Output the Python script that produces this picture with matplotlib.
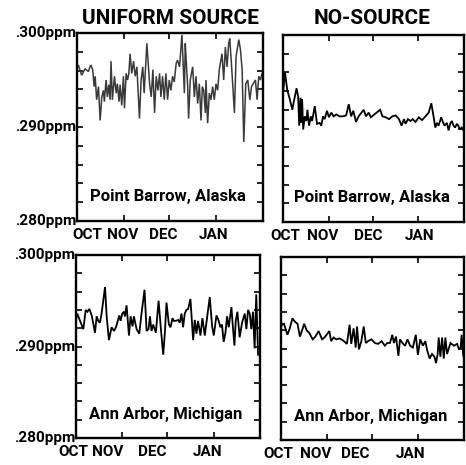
import matplotlib
matplotlib.use("Agg")
import matplotlib.pyplot as plt
import matplotlib.transforms as mtransforms
import numpy as np

plt.rcParams['font.family'] = ['Roboto', 'DejaVu Sans']

# ---- data (ppm) : day index counted from Oct 1 ----
ub_days = [0, 0.9, 3.1, 5.3, 7.5, 9.1, 10.4, 11.3, 12.0, 13.0, 14.2, 15.3, 16.4, 17.5, 18.1, 19.2,
           20.1, 21.0, 21.9, 22.5, 23.4, 24.8, 25.9, 26.7, 27.8, 28.5, 29.6, 30.7, 31.4, 32.5, 33.4,
           34.3, 35.1, 36.2, 37.4, 38.5, 39.6, 41.3, 42.4, 43.5, 44.4, 46.2, 48.0, 49.1, 50.2, 51.3,
           52.4, 53.5, 54.6, 55.5, 56.6, 57.7, 58.8, 59.9, 61.0, 62.1, 63.2, 64.3, 65.6, 66.5, 67.8,
           69.4, 71.0, 71.6, 72.3, 73.2, 73.8, 74.9, 76.5, 77.6, 78.7, 79.8, 80.9, 82.0, 82.9, 83.8,
           84.9, 85.3, 86.4, 87.5, 88.6, 89.7, 90.8, 91.9, 93.0, 94.1, 95.9, 97.0, 98.1, 99.2, 100.3,
           101.0, 102.1, 103.2, 104.1, 105.2, 107.0, 108.1, 109.2, 110.3, 111.6, 112.9, 114.3, 115.4,
           116.5, 118.0, 119.1, 120.2, 121.3, 122.4]
ub_vals = [0.2964, 0.2966, 0.2955, 0.2962, 0.2959, 0.2966, 0.2961, 0.2943, 0.2954, 0.2929, 0.2943,
           0.2907, 0.2932, 0.2939, 0.2927, 0.2950, 0.2932, 0.2945, 0.2929, 0.2970, 0.2929, 0.2954,
           0.2936, 0.2946, 0.2927, 0.2945, 0.2923, 0.2954, 0.2920, 0.2957, 0.2950, 0.2957, 0.2978,
           0.2957, 0.2970, 0.2954, 0.2964, 0.2909, 0.2950, 0.2964, 0.2936, 0.2989, 0.2946, 0.2932,
           0.2961, 0.2915, 0.2954, 0.2939, 0.2957, 0.2932, 0.2954, 0.2929, 0.2957, 0.2929, 0.2950,
           0.2939, 0.2954, 0.2948, 0.2968, 0.2971, 0.2964, 0.2998, 0.2936, 0.2989, 0.2968, 0.2943,
           0.2909, 0.2950, 0.2964, 0.2932, 0.2954, 0.2925, 0.2946, 0.2907, 0.2943, 0.2939, 0.2915,
           0.2950, 0.2904, 0.2936, 0.2929, 0.2943, 0.2929, 0.2946, 0.2939, 0.2961, 0.2978, 0.2950,
           0.2985, 0.2964, 0.2989, 0.2994, 0.2968, 0.2939, 0.2915, 0.2975, 0.2993, 0.2982, 0.2961,
           0.2884, 0.2946, 0.2950, 0.2929, 0.2943, 0.2946, 0.2950, 0.2929, 0.2954, 0.2950, 0.2957]

nb_days = [0.2, 1.35, 2.9, 4.7, 6.3, 7.4, 9.2, 10.3, 11.0, 11.9, 12.6, 13.0, 13.7, 14.8, 15.9, 16.6,
           17.7, 18.9, 19.8, 21.6, 23.1, 24.9, 26.0, 27.2, 28.3, 29.9, 31.2, 32.8, 34.4, 36.2, 38.4,
           40.6, 42.9, 44.7, 46.3, 47.8, 49.6, 51.4, 54.8, 56.4, 58.2, 59.7, 62.0, 66.0, 67.6, 69.8,
           72.1, 74.3, 76.6, 78.8, 80.6, 82.2, 83.3, 84.9, 86.7, 88.2, 90.0, 92.3, 94.5, 96.8, 99.0,
           100.8, 102.4, 103.5, 104.6, 105.7, 107.5, 108.4, 109.8, 111.4, 112.5, 113.6, 114.7, 115.9,
           117.0, 118.1, 119.2, 120.3, 121.5, 122.6]
nb_vals = [0.2941, 0.2960, 0.2941, 0.2931, 0.2920, 0.2929, 0.2943, 0.2934, 0.2903, 0.2933, 0.2906,
           0.2931, 0.2899, 0.2913, 0.2908, 0.2920, 0.2903, 0.2913, 0.2908, 0.2924, 0.2905, 0.2906,
           0.2903, 0.2913, 0.2910, 0.2919, 0.2912, 0.2917, 0.2913, 0.2915, 0.2913, 0.2913, 0.2914,
           0.2926, 0.2913, 0.2919, 0.2907, 0.2913, 0.2920, 0.2913, 0.2917, 0.2912, 0.2915, 0.2920,
           0.2913, 0.2912, 0.2910, 0.2913, 0.2914, 0.2910, 0.2903, 0.2910, 0.2905, 0.2910, 0.2908,
           0.2910, 0.2907, 0.2912, 0.2909, 0.2913, 0.2917, 0.2927, 0.2912, 0.2901, 0.2906, 0.2903,
           0.2912, 0.2908, 0.2903, 0.2906, 0.2898, 0.2905, 0.2908, 0.2903, 0.2901, 0.2905, 0.2903,
           0.2899, 0.2901, 0.2898]

ua_days = [0, 0.9, 2.7, 4.9, 6.5, 7.6, 8.9, 10.5, 12.7, 13.8, 14.9, 16.0, 17.1, 19.4, 20.5, 22.0,
           23.8, 25.4, 26.7, 27.6, 28.9, 29.8, 30.9, 32.0, 32.7, 33.8, 35.4, 36.5, 37.8, 38.7, 40.5,
           42.3, 43.8, 45.8, 47.2, 48.5, 49.4, 50.5, 51.6, 53.4, 55.2, 56.5, 58.3, 59.4, 60.5, 62.1,
           63.2, 64.5, 65.4, 66.7, 68.3, 69.4, 70.5, 71.6, 72.7, 73.8, 75.0, 76.5, 78.3, 79.4, 80.5,
           81.6, 83.2, 84.5, 86.1, 87.2, 89.4, 91.0, 92.1, 93.9, 95.4, 96.5, 97.6, 98.7, 99.9, 101.0,
           102.1, 103.9, 105.0, 105.9, 106.8, 107.9, 109.4, 111.0, 112.8, 113.9, 115.0, 116.1, 117.2,
           118.3, 119.4, 120.5, 121.7]
ua_vals = [0.2929, 0.2936, 0.2928, 0.2919, 0.2940, 0.2938, 0.2941, 0.2934, 0.2915, 0.2933, 0.2928,
           0.2926, 0.2936, 0.2965, 0.2933, 0.2907, 0.2921, 0.2917, 0.2921, 0.2926, 0.2934, 0.2928,
           0.2936, 0.2938, 0.2933, 0.2945, 0.2912, 0.2933, 0.2922, 0.2933, 0.2919, 0.2914, 0.2936,
           0.2962, 0.2917, 0.2919, 0.2933, 0.2917, 0.2924, 0.2915, 0.2950, 0.2924, 0.2891, 0.2915,
           0.2948, 0.2924, 0.2921, 0.2931, 0.2928, 0.2928, 0.2929, 0.2926, 0.2936, 0.2921, 0.2936,
           0.2940, 0.2941, 0.2952, 0.2907, 0.2929, 0.2914, 0.2928, 0.2912, 0.2931, 0.2912, 0.2926,
           0.2954, 0.2922, 0.2912, 0.2934, 0.2928, 0.2921, 0.2924, 0.2905, 0.2915, 0.2933, 0.2921,
           0.2943, 0.2919, 0.2901, 0.2928, 0.2938, 0.2910, 0.2926, 0.2936, 0.2919, 0.2940, 0.2936,
           0.2919, 0.2938, 0.2898, 0.2957, 0.2891]

na_days = [0, 0.9, 2.0, 4.3, 5.9, 7.7, 9.5, 11.1, 12.7, 14.0, 15.6, 17.2, 19.0, 21.3, 23.1, 25.3,
           27.6, 29.2, 32.5, 33.7, 35.3, 37.1, 39.3, 41.6, 44.3, 46.1, 47.2, 48.8, 50.2, 51.1, 52.4,
           54.0, 55.6, 57.0, 58.5, 60.8, 63.1, 65.3, 67.6, 69.8, 71.4, 73.2, 74.8, 75.9, 77.3, 78.9,
           80.0, 81.6, 83.4, 85.0, 86.8, 88.6, 90.6, 92.0, 93.6, 95.4, 97.0, 98.1, 99.9, 101.5, 103.1,
           104.2, 105.3, 106.0, 107.1, 108.3, 109.4, 110.5, 111.6, 113.9, 116.2, 118.4, 119.6, 120.7,
           121.4, 122.5]
na_vals = [0.2929, 0.2926, 0.2927, 0.2915, 0.2922, 0.2933, 0.2929, 0.2927, 0.2913, 0.2919, 0.2927,
           0.2920, 0.2917, 0.2910, 0.2913, 0.2919, 0.2910, 0.2912, 0.2919, 0.2908, 0.2912, 0.2910,
           0.2911, 0.2909, 0.2905, 0.2926, 0.2905, 0.2922, 0.2901, 0.2924, 0.2899, 0.2908, 0.2924,
           0.2906, 0.2908, 0.2910, 0.2906, 0.2905, 0.2908, 0.2903, 0.2906, 0.2906, 0.2915, 0.2906,
           0.2913, 0.2892, 0.2910, 0.2906, 0.2903, 0.2910, 0.2903, 0.2901, 0.2915, 0.2893, 0.2910,
           0.2903, 0.2908, 0.2899, 0.2889, 0.2894, 0.2891, 0.2884, 0.2894, 0.2912, 0.2891, 0.2912,
           0.2889, 0.2912, 0.2894, 0.2906, 0.2903, 0.2905, 0.2899, 0.2901, 0.2915, 0.2892]

month_labels = ["OCT", "NOV", "DEC", "JAN"]
month_starts = [31, 61, 92]          # Nov 1, Dec 1, Jan 1 (days from Oct 1)
ytick_vals = [0.280, 0.290, 0.300]
ytick_text = [".280ppm", ".290ppm", ".300ppm"]
titles = ["UNIFORM SOURCE", "NO-SOURCE"]
stations = ["Point Barrow, Alaska", "Ann Arbor, Michigan"]

W, H = 466, 465
fig = plt.figure(figsize=(W / 100, H / 100), dpi=100)

def px_axes(x0, y0, x1, y1):
    return fig.add_axes([x0 / W, 1 - y1 / H, (x1 - x0) / W, (y1 - y0) / H])

panels = [
    # rect, days, vals, station, color, lw, label positions (days), left labels
    ((77, 33, 263, 221), ub_days, ub_vals, stations[0], "#3a3a3a", 1.1, [7, 30, 57, 90], True),
    ((283, 35, 464, 222), nb_days, nb_vals, stations[0], "black", 1.3, [1.5, 27, 58, 93], False),
    ((76, 255, 260, 438), ua_days, ua_vals, stations[1], "black", 1.3, [-2, 21, 51, 88], True),
    ((281, 257, 464, 440), na_days, na_vals, stations[1], "black", 1.3, [-1.5, 23, 50, 87], False),
]

for rect, d, v, st, col, lw, lab_pos, left in panels:
    ax = px_axes(*rect)
    ax.plot(d, v, color=col, lw=lw, solid_joinstyle="miter")
    ax.set_xlim(0, 123)
    ax.set_ylim(0.280, 0.300)
    for s in ax.spines.values():
        s.set_linewidth(1.7)
    ax.set_yticks(np.arange(0.280, 0.3001, 0.002))
    ax.set_yticklabels([])
    ax.tick_params(axis="y", direction="in", length=4, width=1.2, left=True, right=True)
    ax.set_xticks(month_starts)
    ax.set_xticklabels([])
    ax.tick_params(axis="x", direction="in", length=4, width=1.2, top=True, bottom=True)
    trans = mtransforms.offset_copy(
        mtransforms.blended_transform_factory(ax.transData, ax.transAxes),
        fig=fig, x=0, y=-14, units="dots")
    for lab, p in zip(month_labels, lab_pos):
        ax.text(p, 0, lab, transform=trans, ha="center", va="center",
                fontsize=11, fontweight="bold", clip_on=False)
    ax.text(0.49, 0.13, st, transform=ax.transAxes, ha="center", va="center",
            fontsize=12, fontweight="bold")
    if left:
        ytr = mtransforms.blended_transform_factory(ax.transAxes, ax.transData)
        for yv, yt in zip(ytick_vals, ytick_text):
            ax.text(-0.003, yv, yt, transform=ytr, ha="right", va="center",
                    fontsize=11, fontweight="bold", clip_on=False)

fig.text(170 / W, 1 - 19 / H, titles[0], ha="center", va="center", fontsize=15, fontweight="bold")
fig.text(372 / W, 1 - 19 / H, titles[1], ha="center", va="center", fontsize=15, fontweight="bold")

fig.savefig("out.png", dpi=100)
